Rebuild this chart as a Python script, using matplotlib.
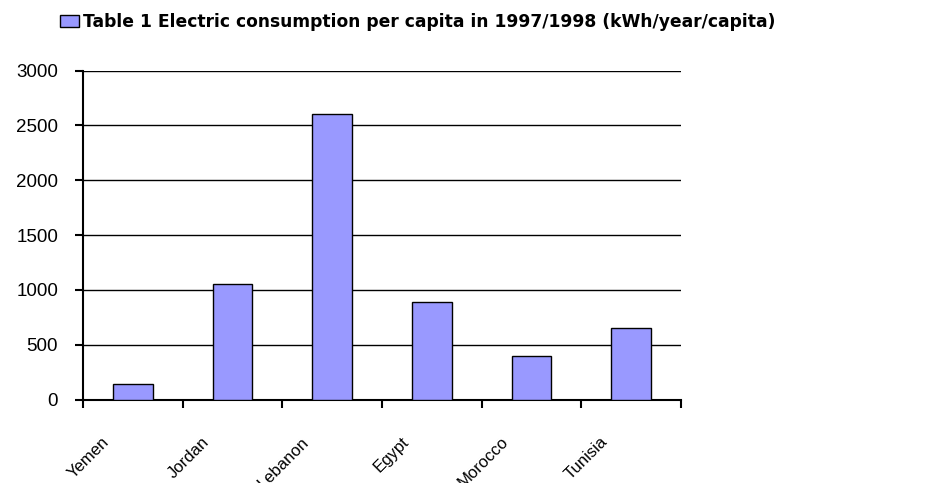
import numpy as np
import matplotlib.pyplot as plt
from matplotlib.transforms import ScaledTranslation

# values
countries = ["Yemen", "Jordan", "Lebanon", "Egypt", "Morocco", "Tunisia"]
consumption = [145, 1050, 2600, 885, 395, 650]
series_label = "Table 1 Electric consumption per capita in 1997/1998 (kWh/year/capita)"
y_ticks = [0, 500, 1000, 1500, 2000, 2500, 3000]

plt.rcParams['font.family'] = ['Liberation Sans', 'DejaVu Sans']

fig = plt.figure(figsize=(9.41, 4.83), dpi=100)
ax = fig.add_axes([83 / 941, 1 - 399.5 / 483, (681 - 83) / 941, (399.5 - 70.5) / 483])

x = np.arange(len(countries))
ax.bar(x, consumption, width=0.4, color="#9999ff", edgecolor="black",
       linewidth=1, label=series_label, zorder=3)

ax.set_xlim(-0.5, len(countries) - 0.5)
ax.set_ylim(0, 3000)
ax.set_yticks(y_ticks)
ax.yaxis.grid(True, color="black", linewidth=1, zorder=0)

# x: ticks between categories, labels at centres
ax.set_xticks(np.arange(-0.5, len(countries), 1))
ax.set_xticklabels([])
ax.set_xticks(x, minor=True)
ax.set_xticklabels(countries, minor=True, rotation=45, ha="right", va="top",
                   rotation_mode="anchor", fontsize=12)
ax.tick_params(axis="x", which="major", direction="out", length=6, width=1.5)
ax.tick_params(axis="x", which="minor", length=0, pad=25)
for lbl in ax.get_xticklabels(minor=True):
    lbl.set_transform(lbl.get_transform() + ScaledTranslation(-0.31, 0, fig.dpi_scale_trans))

ax.tick_params(axis="y", direction="out", length=6, width=1.5, pad=12, labelsize=13.5)

for s in ["top", "right"]:
    ax.spines[s].set_visible(False)
for s in ["left", "bottom"]:
    ax.spines[s].set_linewidth(1.5)

fig.legend(loc="upper left", bbox_to_anchor=(60 / 941, 1 - 13 / 483), frameon=False,
           prop={"family": "DejaVu Sans", "weight": "bold", "size": 12.3},
           handlelength=1.1, handleheight=0.7, handletextpad=0.25,
           borderpad=0, borderaxespad=0)

fig.savefig("out.png", dpi=100)
